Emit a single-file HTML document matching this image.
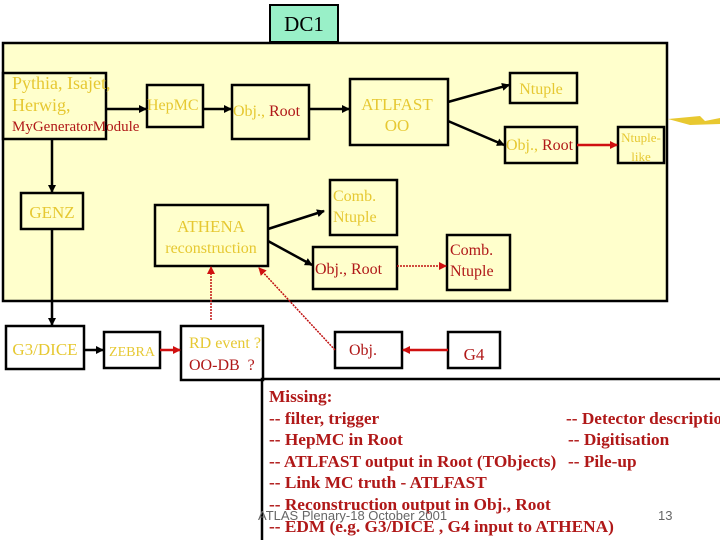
<!DOCTYPE html>
<html><head><style>
body{margin:0;background:#fff;}
svg{display:block;}
.y{fill:#e6c832;font-family:"Liberation Serif",serif;}
.r{fill:#b01818;font-family:"Liberation Serif",serif;}
.b{fill:none;stroke:#000;stroke-width:2.5;}
</style></head><body>
<svg width="720" height="540" viewBox="0 0 720 540" xmlns="http://www.w3.org/2000/svg">
<defs>
<marker id="ak" markerWidth="8" markerHeight="8" refX="7" refY="4" orient="auto" markerUnits="userSpaceOnUse"><path d="M0,0 L8,4 L0,8z" fill="#000"/></marker>
<marker id="ar" markerWidth="8" markerHeight="8" refX="7" refY="4" orient="auto" markerUnits="userSpaceOnUse"><path d="M0,0 L8,4 L0,8z" fill="#d01010"/></marker>
</defs>
<rect x="3" y="43" width="664" height="258" fill="#ffffcc" stroke="#000" stroke-width="2.5"/>
<rect x="270" y="5" width="68" height="37" fill="#99f0c8" stroke="#000" stroke-width="2"/>
<text x="304" y="31" text-anchor="middle" font-family="Liberation Serif,serif" font-size="21" fill="#000">DC1</text>
<path d="M668,119 L700,116 L705,121 L720,118 L720,124 L690,125 Z" fill="#e8c830"/>
<rect class="b" x="3" y="73" width="103" height="66"/>
<rect class="b" x="147" y="85" width="56" height="42"/>
<rect class="b" x="232" y="85" width="77" height="54"/>
<rect class="b" x="350" y="79" width="98" height="66"/>
<rect class="b" x="510" y="73" width="67" height="30"/>
<rect class="b" x="505" y="127" width="72" height="36"/>
<rect class="b" x="618" y="127" width="46" height="36"/>
<rect class="b" x="21" y="193" width="62" height="36"/>
<rect class="b" x="155" y="205" width="113" height="61"/>
<rect class="b" x="330" y="180" width="67" height="55"/>
<rect class="b" x="313" y="247" width="84" height="42"/>
<rect class="b" x="447" y="235" width="63" height="55"/>
<rect class="b" x="6" y="326" width="78" height="43"/>
<rect class="b" x="104" y="332" width="56" height="36"/>
<rect class="b" x="181" y="326" width="82" height="54"/>
<rect class="b" x="335" y="332" width="67" height="36"/>
<rect class="b" x="448" y="332" width="52" height="36"/>
<path d="M262,540 L262,379 L720,379" fill="none" stroke="#000" stroke-width="2.5"/>
<g stroke="#000" stroke-width="2.5" fill="none" marker-end="url(#ak)">
<line x1="106" y1="109" x2="146" y2="109"/>
<line x1="203" y1="109" x2="231" y2="109"/>
<line x1="309" y1="109" x2="349" y2="109"/>
<line x1="448" y1="102" x2="509" y2="85"/>
<line x1="448" y1="121" x2="504" y2="145"/>
<line x1="52" y1="139" x2="52" y2="192"/>
<line x1="268" y1="229" x2="324" y2="211"/>
<line x1="268" y1="241" x2="312" y2="265"/>
<line x1="52" y1="229" x2="52" y2="325"/>
<line x1="84" y1="350" x2="103" y2="350"/>
</g>
<g stroke="#d01010" stroke-width="2.5" fill="none" marker-end="url(#ar)">
<line x1="577" y1="145" x2="617" y2="145"/>
<line x1="160" y1="350" x2="180" y2="350"/>
<line x1="448" y1="350" x2="403" y2="350"/>
</g>
<g stroke="#c01010" stroke-width="1.5" fill="none" stroke-dasharray="2,1" marker-end="url(#ar)">
<line x1="397" y1="266" x2="446" y2="266"/>
<line x1="211" y1="320" x2="211" y2="267"/>
<line x1="335" y1="350" x2="259" y2="268"/>
</g>
<text class="y" x="12" y="89" font-size="18">Pythia, Isajet,</text>
<text class="y" x="12" y="111" font-size="18">Herwig,</text>
<text class="r" x="12" y="131" font-size="15">MyGeneratorModule</text>
<text class="y" x="147" y="110" font-size="16">HepMC</text>
<text class="y" x="233" y="116" font-size="16">Obj., <tspan class="r">Root</tspan></text>
<text class="y" x="397" y="110" font-size="17" text-anchor="middle">ATLFAST</text>
<text class="y" x="397" y="131" font-size="17" text-anchor="middle">OO</text>
<text class="y" x="541" y="94" font-size="16" text-anchor="middle">Ntuple</text>
<text class="y" x="506" y="150" font-size="16">Obj., <tspan class="r">Root</tspan></text>
<text class="y" x="641" y="142" font-size="13" text-anchor="middle">Ntuple-</text>
<text class="y" x="641" y="161" font-size="13" text-anchor="middle">like</text>
<text class="y" x="52" y="218" font-size="17" text-anchor="middle">GENZ</text>
<text class="y" x="211" y="232" font-size="17" text-anchor="middle">ATHENA</text>
<text class="y" x="211" y="253" font-size="16" text-anchor="middle">reconstruction</text>
<text class="y" x="333" y="201" font-size="16">Comb.</text>
<text class="y" x="333" y="222" font-size="16">Ntuple</text>
<text class="r" x="315" y="274" font-size="16">Obj., Root</text>
<text class="r" x="450" y="255" font-size="16">Comb.</text>
<text class="r" x="450" y="276" font-size="16">Ntuple</text>
<text class="y" x="45" y="355" font-size="17" text-anchor="middle">G3/DICE</text>
<text class="y" x="132" y="356" font-size="14" text-anchor="middle">ZEBRA</text>
<text class="y" x="189" y="348" font-size="16">RD event ?</text>
<text class="r" x="189" y="370" font-size="16">OO-DB &#160;?</text>
<text class="r" x="349" y="355" font-size="16">Obj.</text>
<text class="r" x="474" y="360" font-size="17" text-anchor="middle">G4</text>
<g class="r" font-size="17.3" font-weight="bold">
<text x="269" y="402">Missing:</text>
<text x="269" y="424">-- filter, trigger</text>
<text x="269" y="445">-- HepMC in Root</text>
<text x="269" y="467">-- ATLFAST output in Root (TObjects)</text>
<text x="269" y="488">-- Link MC truth - ATLFAST</text>
<text x="269" y="510">-- Reconstruction output in Obj., Root</text>
<text x="269" y="532">-- EDM (e.g. G3/DICE , G4 input to ATHENA)</text>
<text x="566" y="424">-- Detector description</text>
<text x="568" y="445">-- Digitisation</text>
<text x="568" y="467">-- Pile-up</text>
</g>
<text x="258" y="520" font-family="Liberation Sans,sans-serif" font-size="13" fill="#666">ATLAS Plenary-18 October 2001</text>
<text x="658" y="520" font-family="Liberation Sans,sans-serif" font-size="13" fill="#666">13</text>
</svg>
</body></html>
